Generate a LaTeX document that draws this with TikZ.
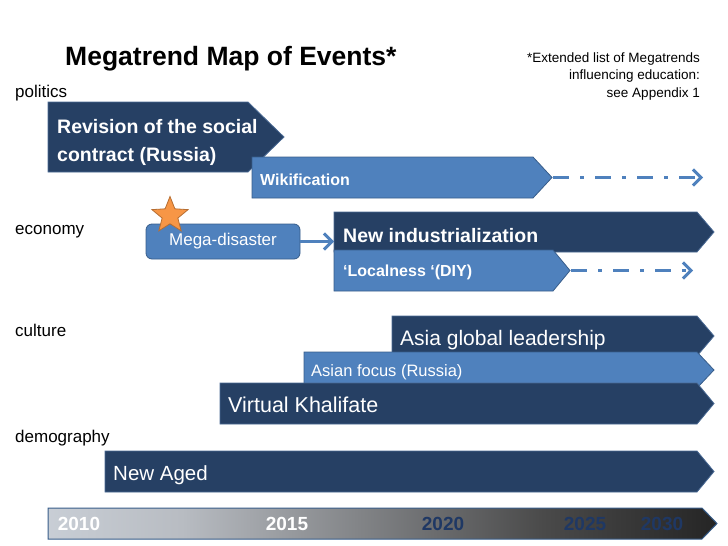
\documentclass[tikz,border=0pt]{standalone}
\usepackage{fontspec}
\setmainfont{Liberation Sans}
\usetikzlibrary{arrows.meta,shapes.geometric}
\definecolor{navy}{HTML}{264064}
\definecolor{navyedge}{HTML}{4A6A94}
\definecolor{lblue}{HTML}{4F81BD}
\definecolor{lbedge}{HTML}{385D8A}
\definecolor{orng}{HTML}{F79646}
\definecolor{orngedge}{HTML}{B66D31}
\definecolor{yearnavy}{HTML}{1F3864}
\definecolor{tlA}{HTML}{E4ECF6}
\definecolor{tlB}{HTML}{B8BCC2}
\definecolor{tlC}{HTML}{4A4A4A}
\pgfdeclarehorizontalshading{tlshade}{100bp}{color(0bp)=(tlA); color(8bp)=(tlA); color(35bp)=(tlB); color(62bp)=(tlC); color(88bp)=(black); color(100bp)=(black)}
\newcommand\fs[1]{\fontsize{#1}{#1}\selectfont}
\begin{document}
\begin{tikzpicture}[x=1pt,y=-1pt,
  darkbox/.style={fill=navy,draw=navyedge,line width=0.8pt},
  lightbox/.style={fill=lblue,draw=lbedge,line width=0.8pt},
  txt/.style={anchor=base west,inner sep=0pt,text=white},
  lbl/.style={anchor=base west,inner sep=0pt,text=black},
  dd/.style={draw=lblue,line width=3.5pt,dash pattern=on 16pt off 11pt on 4pt off 11pt,-{Straight Barb[length=8pt,width=16pt,line width=3pt]}},
  arr/.style={draw=lblue,line width=3.5pt,-{Straight Barb[length=8pt,width=16pt,line width=3pt]}},
  year/.style={anchor=base,inner sep=0pt,font=\bfseries\fs{19}}]
\useasboundingbox (0,0) rectangle (728,546);

% title and note
\node[lbl,font=\bfseries\fs{26.5}] (title) at (65,65) {Megatrend Map of Events*};
\node[anchor=base east,inner sep=0pt,font=\fs{13.5}] (note1) at (700,62) {*Extended list of Megatrends};
\node[anchor=base east,inner sep=0pt,font=\fs{13.5}] (note2) at (700,79.5) {influencing education:};
\node[anchor=base east,inner sep=0pt,font=\fs{13.5}] (note3) at (700,97) {see Appendix 1};

% section labels
\node[lbl,font=\fs{17}] (politics) at (15,97) {politics};
\node[lbl,font=\fs{17}] (economy) at (15,234) {economy};
\node[lbl,font=\fs{17}] (culture) at (15,336) {culture};
\node[lbl,font=\fs{17}] (demography) at (15,442) {demography};

% politics
\path[darkbox] (48,102) -- (248,102) -- (284,137) -- (248,172) -- (48,172) -- cycle;
\node[txt,font=\bfseries\fs{19.5}] (rev1) at (57,133) {Revision of the social};
\node[txt,font=\bfseries\fs{19.5}] (rev2) at (57,161) {contract (Russia)};
\path[lightbox] (252,157) -- (533,157) -- (552,177.5) -- (533,198) -- (252,198) -- cycle;
\node[txt,font=\bfseries\fs{16}] (wiki) at (260,185) {Wikification};
\coordinate (wikitip) at (553,177.5);
\coordinate (wikiend) at (703,177.5);
\draw[dd] (wikitip) -- (wikiend);

% economy
\path[darkbox] (334,212) -- (697,212) -- (714,232) -- (697,252) -- (334,252) -- cycle;
\node[txt,font=\bfseries\fs{19.5}] (newind) at (343,242) {New industrialization};
\coordinate (newindL) at (334,241.5);
\path[lightbox] (334,250) -- (553,250) -- (570,270.5) -- (553,291) -- (334,291) -- cycle;
\node[txt,font=\bfseries\fs{16}] (local) at (343,276.5) {‘Localness ‘(DIY)};
\coordinate (localtip) at (571,270.5);
\coordinate (localend) at (693,270.5);
\draw[dd] (localtip) -- (localend);

\node[lightbox,rounded corners=6pt,minimum width=154pt,minimum height=35pt,inner sep=0pt,
      text=white,font=\fs{17}] (mega) at (223,241.5) {Mega-disaster};
\node[star,star points=5,star point ratio=2.3,minimum size=38pt,inner sep=0pt,
      fill=orng,draw=orngedge,line width=0.8pt] (star) at (170,215.5) {};
\draw[arr] (mega.east) -- (newindL);

% culture
\path[darkbox] (392,316) -- (697,316) -- (714,336) -- (697,356) -- (392,356) -- cycle;
\node[txt,font=\fs{21}] (asia) at (400,345) {Asia global leadership};
\path[lightbox] (304,352) -- (697,352) -- (714,370) -- (697,388) -- (304,388) -- cycle;
\node[txt,font=\fs{16.5}] (asianfocus) at (311,376) {Asian focus (Russia)};
\path[darkbox] (220,383) -- (697,383) -- (714,403.5) -- (697,424) -- (220,424) -- cycle;
\node[txt,font=\fs{21.5}] (virtual) at (228,412) {Virtual Khalifate};

% demography
\path[darkbox] (105,451) -- (697,451) -- (714,471.5) -- (697,492) -- (105,492) -- cycle;
\node[txt,font=\fs{20.5}] (newaged) at (113,480) {New Aged};

% timeline
\shade[shading=tlshade] (48,508) -- (702,508) -- (717,523.5) -- (702,539) -- (48,539) -- cycle;
\draw[draw=lbedge,line width=1pt] (48,508) -- (702,508) -- (717,523.5) -- (702,539) -- (48,539) -- cycle;
\node[year,text=white] (y2010) at (79,530.5) {2010};
\node[year,text=white] (y2015) at (287,530.5) {2015};
\node[year,text=yearnavy] (y2020) at (443,530.5) {2020};
\node[year,text=yearnavy] (y2025) at (585,530.5) {2025};
\node[year,text=yearnavy] (y2030) at (662,530.5) {2030};
\end{tikzpicture}
\end{document}
